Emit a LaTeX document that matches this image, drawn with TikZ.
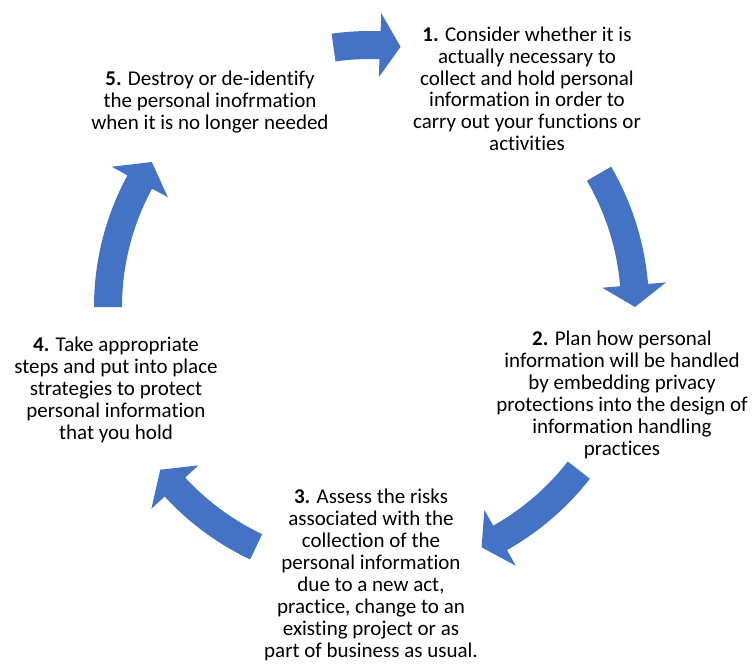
\documentclass[tikz,border=0pt]{standalone}
\usepackage{fontspec}
\setmainfont{Carlito}[Ligatures=NoCommon]
\definecolor{arrowblue}{HTML}{4472C4}
\newcommand\cycarrow[4]{% #1 radius, #2 tail angle, #3 head-base angle, #4 tip angle
  \pgfmathsetmacro\cyro{#1+14}\pgfmathsetmacro\cyri{#1-14}%
  \pgfmathsetmacro\cyho{#1+32}\pgfmathsetmacro\cyhi{#1-32}%
  \fill[cycarrowstyle] (#2:\cyro) arc[start angle=#2, end angle=#3, radius=\cyro]
    -- (#3:\cyho) -- (#4:#1) -- (#3:\cyhi) -- (#3:\cyri)
    arc[start angle=#3, end angle=#2, radius=\cyri] -- cycle;}
\begin{document}
\begin{tikzpicture}[x=1pt,y=-1pt,
  lbl/.style={align=center, inner sep=0pt, anchor=base, font=\fontsize{21}{22}\selectfont},
  cycarrowstyle/.style={fill=arrowblue, draw=none}]
\useasboundingbox (0,0) rectangle (755,666);
\begin{scope}[shift={(370,307)}]
  \cycarrow{262}{-98}{-87.8}{-83.3}
  \cycarrow{265}{-30.2}{-4.75}{0}
  \cycarrow{265}{38}{60.6}{65.1}
  \cycarrow{265.5}{115.4}{137.3}{142.2}
  \cycarrow{262}{180}{208.5}{213.6}
\end{scope}
\node[lbl] (t1) at (527,151) {\textbf{1.} Consider whether it is\\actually necessary to\\collect and hold personal\\information in order to\\carry out your functions or\\activities};
\node[lbl] (t2) at (622,455) {\textbf{2.} Plan how personal\\information will be handled\\by embedding privacy\\protections into the design of\\information handling\\practices};
\node[lbl] (t3) at (371,657) {\textbf{3.} Assess the risks\\associated with the\\collection of the\\personal information\\due to a new act,\\practice, change to an\\existing project or as\\part of business as usual.};
\node[lbl] (t4) at (116,439) {\textbf{4.} Take appropriate\\steps and put into place\\strategies to protect\\personal information\\that you hold};
\node[lbl] (t5) at (210,130) {\textbf{5.} Destroy or de-identify\\the personal inofrmation\\when it is no longer needed};
\end{tikzpicture}
\end{document}
